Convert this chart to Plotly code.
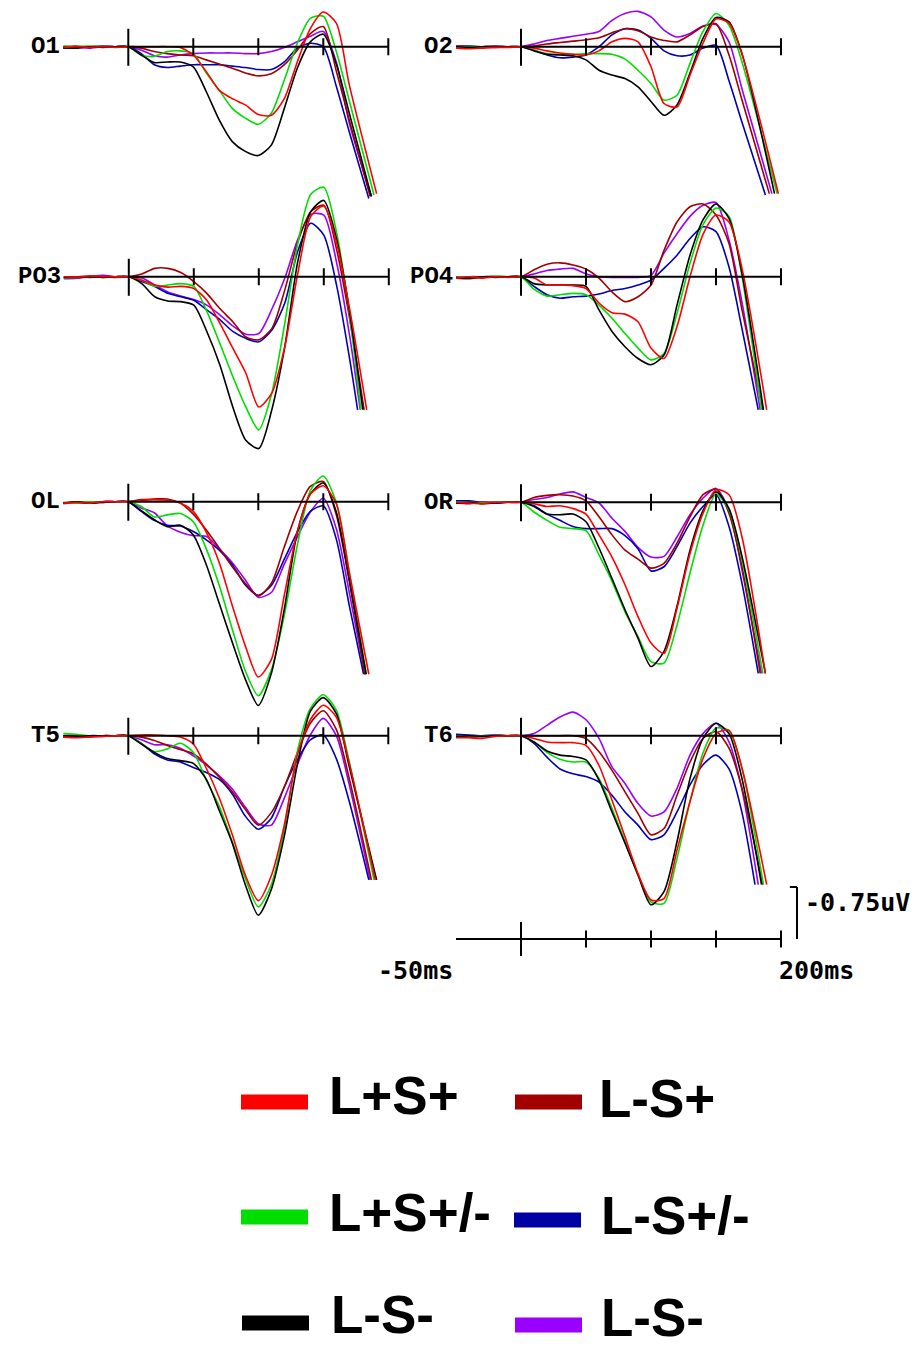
import plotly.graph_objects as go

# ---------------- data (µV, negative plotted upward) ----------------
TIME = [-50, -40, -30, -20, -10, 0, 10, 20, 30, 40, 50, 60, 70, 80, 90, 100, 110, 120, 130, 140, 150, 160, 170]
TICK_MS = [0, 50, 100, 150, 200]
CONDITIONS = ["L+S+", "L-S+", "L+S+/-", "L-S+/-", "L-S-", "L-S-"]
COLORS = ["#ff0000", "#a00000", "#00dd00", "#0000b4", "#000000", "#9900ff"]
LEGEND_COLORS = ["#ff0000", "#a30000", "#00dd00", "#0000a3", "#000000", "#9900ff"]
CHANNELS = ["O1", "O2", "PO3", "PO4", "OL", "OR", "T5", "T6"]
SCALE_UV = 0.75

O1_R = [0.01, 0.0, 0.01, 0.0, 0.01, 0, 0, 0, 0, 0.01, 0.12, 0.36, 0.63, 0.75, 0.84, 0.98, 0.99, 0.75, 0.22, -0.26, -0.50, -0.34, 0.55]
O1_DR = [0.0, -0.01, 0.01, 0.0, 0.0, 0, 0.02, 0.07, 0.10, 0.12, 0.13, 0.19, 0.25, 0.31, 0.38, 0.42, 0.39, 0.26, 0.05, -0.19, -0.29, 0.35, 1.06]
O1_G = [-0.01, 0.0, -0.01, 0.0, 0.0, 0, 0.12, 0.14, 0.07, 0.06, 0.10, 0.38, 0.63, 0.89, 1.03, 1.12, 0.96, 0.48, -0.05, -0.41, -0.44, 0.07, 0.78]
O1_B = [0.02, 0.01, 0.0, -0.01, 0.0, 0, 0.10, 0.26, 0.30, 0.28, 0.26, 0.26, 0.26, 0.28, 0.30, 0.33, 0.33, 0.22, 0.02, -0.05, 0.0, 0.57, 1.23]
O1_K = [0.01, 0.02, 0.0, 0.01, 0.0, 0, 0.12, 0.23, 0.22, 0.22, 0.29, 0.65, 1.06, 1.37, 1.51, 1.57, 1.42, 0.89, 0.31, -0.07, -0.18, 0.25, 0.96]
O1_P = [0.02, 0.01, 0.02, 0.0, 0.0, 0, 0.05, 0.13, 0.15, 0.12, 0.10, 0.09, 0.09, 0.09, 0.10, 0.10, 0.07, 0.01, -0.07, -0.15, -0.22, 0.22, 1.10]
O1_END_T = [191, 186, 189, 185, 187, 187]
O1_END_V = [2.12, 2.16, 2.14, 2.19, 2.16, 2.16]

O2_R = [0.02, 0.03, 0.02, 0.01, 0.01, 0, 0.02, 0.06, 0.09, 0.11, 0.12, 0.06, -0.07, -0.12, -0.07, 0.29, 0.82, 0.87, 0.41, -0.05, -0.40, -0.34, 0.11]
O2_DR = [0.0, 0.01, 0.0, 0.01, 0.0, 0, -0.01, -0.04, -0.06, -0.08, -0.10, -0.13, -0.20, -0.26, -0.23, -0.14, -0.09, -0.07, -0.17, -0.29, -0.33, 0.12, 0.77]
O2_G = [0.01, 0.0, 0.01, 0.0, 0.0, 0, 0.05, 0.10, 0.11, 0.11, 0.10, 0.10, 0.11, 0.18, 0.34, 0.53, 0.77, 0.70, 0.24, -0.22, -0.48, -0.31, 0.22]
O2_B = [-0.01, -0.01, 0.0, -0.01, 0.0, 0, 0.05, 0.12, 0.16, 0.15, 0.12, 0.0, -0.17, -0.26, -0.24, -0.12, 0.06, 0.13, 0.12, 0.02, -0.02, 0.49, 1.09]
O2_K = [0.0, 0.01, 0.0, 0.0, 0.0, 0, 0.06, 0.11, 0.12, 0.13, 0.19, 0.34, 0.41, 0.46, 0.58, 0.79, 0.99, 0.84, 0.38, -0.12, -0.42, -0.36, 0.10]
O2_P = [0.0, 0.0, 0.01, 0.0, 0.0, 0, -0.04, -0.09, -0.12, -0.15, -0.18, -0.22, -0.38, -0.48, -0.51, -0.43, -0.24, -0.14, -0.19, -0.30, -0.32, -0.07, 0.61]
O2_END_T = [198, 191, 197, 188, 195, 193]
O2_END_V = [2.12, 2.12, 2.12, 2.14, 2.12, 2.12]

PO3_R = [0.0, 0.01, -0.01, 0.0, 0.0, 0, 0.05, 0.12, 0.15, 0.14, 0.17, 0.34, 0.67, 1.03, 1.39, 1.88, 1.68, 1.01, -0.05, -0.87, -1.02, -0.48, 0.48]
PO3_DR = [0.01, 0.0, -0.01, 0.0, 0.01, 0, -0.04, -0.12, -0.12, -0.06, 0.07, 0.24, 0.46, 0.65, 0.87, 0.91, 0.75, 0.19, -0.50, -0.94, -1.03, -0.38, 0.62]
PO3_G = [0.02, 0.01, 0.0, 0.01, 0.0, 0, 0.05, 0.14, 0.12, 0.10, 0.14, 0.50, 0.96, 1.44, 1.88, 2.21, 1.68, 0.67, -0.48, -1.19, -1.29, -0.62, 0.58]
PO3_B = [0.01, 0.0, 0.01, 0.0, 0.0, 0, 0.07, 0.14, 0.24, 0.29, 0.34, 0.48, 0.62, 0.79, 0.89, 0.94, 0.77, 0.38, -0.37, -0.77, -0.60, 0.14, 1.20]
PO3_K = [0.01, 0.01, 0.0, 0.01, 0.0, 0, 0.10, 0.29, 0.35, 0.36, 0.41, 0.79, 1.27, 1.88, 2.36, 2.48, 1.92, 1.01, -0.22, -0.94, -1.10, -0.53, 0.53]
PO3_P = [0.03, 0.02, 0.0, -0.02, 0.0, 0, 0.02, 0.12, 0.22, 0.28, 0.33, 0.41, 0.55, 0.71, 0.83, 0.82, 0.47, 0.02, -0.54, -0.90, -0.89, -0.19, 0.87]
PO3_END_T = [183, 181, 178.5, 176, 180, 178]
PO3_END_V = [1.92, 1.92, 1.92, 1.92, 1.92, 1.92]

PO4_R = [0.02, 0.0, 0.02, 0.0, 0.01, 0, 0.02, 0.12, 0.12, 0.13, 0.17, 0.38, 0.52, 0.54, 0.65, 1.03, 1.18, 0.72, 0.0, -0.61, -0.89, -0.79, -0.12]
PO4_DR = [0.02, 0.03, 0.01, 0.0, 0.0, 0, -0.10, -0.18, -0.20, -0.17, -0.11, 0.02, 0.22, 0.36, 0.29, 0.12, -0.38, -0.79, -1.01, -1.05, -0.89, -0.48, 0.48]
PO4_G = [0.01, 0.0, 0.01, -0.01, 0.0, 0, 0.18, 0.28, 0.26, 0.24, 0.26, 0.41, 0.60, 0.82, 1.03, 1.20, 1.11, 0.53, -0.19, -0.75, -0.99, -0.87, 0.0]
PO4_B = [0.02, 0.01, 0.0, 0.01, 0.0, 0, 0.14, 0.26, 0.31, 0.29, 0.28, 0.25, 0.20, 0.17, 0.12, 0.05, -0.12, -0.31, -0.55, -0.72, -0.65, -0.14, 0.75]
PO4_K = [0.01, 0.02, 0.0, 0.0, 0.0, 0, 0.10, 0.12, 0.12, 0.12, 0.14, 0.48, 0.79, 1.01, 1.18, 1.27, 1.13, 0.41, -0.31, -0.82, -1.05, -0.84, -0.05]
PO4_P = [0.01, 0.0, 0.0, 0.0, 0.0, 0, -0.04, -0.09, -0.11, -0.12, -0.04, 0.0, 0.01, 0.01, 0.01, -0.02, -0.34, -0.62, -0.87, -1.03, -1.07, -0.53, 0.37]
PO4_END_T = [189, 186, 185, 182.5, 186.5, 184]
PO4_END_V = [1.92, 1.92, 1.92, 1.92, 1.92, 1.92]

OL_R = [0.02, 0.01, 0.02, 0.0, 0.0, 0, -0.02, -0.03, -0.02, 0.02, 0.14, 0.44, 0.88, 1.50, 2.08, 2.53, 2.28, 1.35, 0.43, -0.11, -0.23, 0.03, 1.02]
OL_DR = [0.02, 0.0, 0.01, 0.0, 0.0, 0, -0.03, -0.04, -0.04, 0.02, 0.18, 0.41, 0.67, 0.94, 1.18, 1.36, 1.18, 0.65, 0.14, -0.22, -0.29, 0.19, 1.15]
OL_G = [0.01, 0.02, 0.0, 0.01, 0.0, 0, 0.07, 0.22, 0.19, 0.17, 0.29, 0.68, 1.21, 1.84, 2.44, 2.80, 2.43, 1.64, 0.63, -0.16, -0.37, 0.01, 1.02]
OL_B = [0.02, 0.01, 0.02, 0.0, 0.0, 0, 0.14, 0.27, 0.34, 0.35, 0.43, 0.55, 0.70, 0.91, 1.20, 1.35, 1.21, 0.83, 0.44, 0.14, 0.06, 0.54, 1.50]
OL_K = [0.02, 0.0, 0.02, 0.01, 0.0, 0, 0.13, 0.26, 0.36, 0.34, 0.48, 0.91, 1.47, 2.03, 2.56, 2.94, 2.48, 1.55, 0.44, -0.11, -0.27, 0.15, 1.12]
OL_P = [0.03, 0.01, 0.02, 0.0, 0.0, 0, 0.09, 0.16, 0.35, 0.44, 0.49, 0.50, 0.68, 0.88, 1.13, 1.38, 1.31, 0.90, 0.51, 0.15, -0.05, 0.39, 1.31]
OL_END_T = [185, 182, 183, 181, 183, 182]
OL_END_V = [2.49, 2.49, 2.49, 2.49, 2.49, 2.49]

OR_R = [0.0, 0.01, 0.02, 0.0, 0.0, 0, 0.02, 0.06, 0.05, 0.09, 0.17, 0.47, 0.79, 1.19, 1.65, 2.03, 2.18, 1.53, 0.74, 0.16, -0.18, -0.11, 0.50]
OR_DR = [0.01, 0.02, 0.0, 0.0, 0.0, 0, -0.07, -0.10, -0.11, -0.09, -0.02, 0.21, 0.47, 0.69, 0.82, 0.95, 0.88, 0.59, 0.21, -0.11, -0.19, 0.16, 0.93]
OR_G = [0.0, 0.0, 0.01, 0.0, 0.0, 0, 0.14, 0.26, 0.36, 0.38, 0.41, 0.76, 1.14, 1.58, 1.94, 2.30, 2.32, 1.77, 1.02, 0.33, -0.12, 0.11, 0.83]
OR_B = [-0.02, -0.02, 0.0, 0.01, 0.0, 0, 0.05, 0.17, 0.26, 0.35, 0.38, 0.38, 0.38, 0.48, 0.67, 0.99, 0.93, 0.64, 0.30, 0.06, -0.11, 0.35, 1.17]
OR_K = [0.01, 0.0, 0.02, 0.01, 0.0, 0, 0.06, 0.17, 0.18, 0.17, 0.28, 0.66, 1.10, 1.55, 1.96, 2.37, 2.15, 1.50, 0.69, 0.12, -0.15, 0.09, 0.78]
OR_P = [0.0, 0.01, 0.0, 0.0, 0.0, 0, -0.04, -0.07, -0.12, -0.15, -0.07, 0.01, 0.23, 0.42, 0.65, 0.79, 0.78, 0.50, 0.18, -0.06, -0.20, 0.11, 0.98]
OR_END_T = [188, 184, 186, 182.5, 188, 185]
OR_END_V = [2.47, 2.47, 2.47, 2.47, 2.47, 2.47]

T5_R = [0.02, 0.03, 0.02, 0.01, 0.0, 0, -0.01, -0.01, 0.0, 0.02, 0.12, 0.47, 0.90, 1.43, 2.01, 2.38, 2.02, 1.29, 0.28, -0.23, -0.44, -0.27, 0.40]
T5_DR = [0.01, 0.0, 0.01, 0.0, 0.0, 0, 0.02, 0.07, 0.14, 0.20, 0.26, 0.41, 0.60, 0.81, 1.06, 1.29, 1.11, 0.74, 0.25, -0.18, -0.36, -0.09, 0.62]
T5_G = [-0.03, -0.02, 0.0, 0.0, 0.0, 0, 0.11, 0.23, 0.19, 0.11, 0.24, 0.64, 1.02, 1.53, 2.06, 2.47, 2.15, 1.34, 0.23, -0.39, -0.59, -0.37, 0.38]
T5_B = [0.0, 0.0, 0.01, 0.0, 0.0, 0, 0.11, 0.26, 0.35, 0.38, 0.46, 0.53, 0.63, 0.84, 1.16, 1.35, 1.19, 0.74, 0.35, 0.06, -0.01, 0.33, 0.95]
T5_K = [0.0, 0.01, 0.0, 0.0, 0.0, 0, 0.12, 0.24, 0.33, 0.36, 0.40, 0.63, 1.08, 1.55, 2.15, 2.59, 2.22, 1.45, 0.42, -0.35, -0.55, -0.32, 0.45]
T5_P = [0.02, 0.02, 0.01, 0.01, 0.0, 0, 0.06, 0.13, 0.13, 0.18, 0.29, 0.42, 0.58, 0.77, 1.03, 1.27, 1.29, 0.90, 0.42, -0.01, -0.25, 0.0, 0.71]
T5_END_T = [190, 187, 189, 185, 191, 186]
T5_END_V = [2.08, 2.08, 2.08, 2.08, 2.08, 2.08]

T6_R = [0.03, 0.03, 0.04, 0.01, 0.0, 0, 0.04, 0.09, 0.10, 0.10, 0.14, 0.43, 0.93, 1.46, 1.99, 2.37, 2.35, 1.65, 0.95, 0.33, -0.03, -0.08, 0.47]
T6_DR = [0.01, 0.02, 0.01, 0.0, 0.0, 0, 0.0, 0.0, 0.0, 0.0, 0.04, 0.23, 0.50, 0.81, 1.12, 1.43, 1.34, 0.86, 0.38, 0.04, -0.06, 0.18, 0.76]
T6_G = [0.01, 0.0, 0.01, 0.0, 0.0, 0, 0.09, 0.24, 0.34, 0.38, 0.38, 0.62, 1.05, 1.53, 2.01, 2.40, 2.42, 1.77, 0.95, 0.25, -0.11, -0.07, 0.47]
T6_B = [-0.02, -0.01, 0.0, -0.01, 0.0, 0, 0.11, 0.31, 0.48, 0.55, 0.59, 0.67, 0.86, 1.10, 1.29, 1.50, 1.43, 1.10, 0.71, 0.42, 0.28, 0.48, 1.11]
T6_K = [0.01, 0.0, 0.01, 0.0, 0.0, 0, 0.09, 0.22, 0.28, 0.30, 0.35, 0.64, 1.10, 1.55, 2.01, 2.44, 2.25, 1.53, 0.62, 0.04, -0.18, -0.03, 0.62]
T6_P = [0.01, 0.0, 0.0, 0.0, 0.0, 0, -0.03, -0.15, -0.27, -0.34, -0.23, 0.04, 0.45, 0.69, 0.98, 1.16, 1.10, 0.76, 0.28, -0.03, -0.18, 0.09, 0.78]
T6_END_T = [189, 186, 186.5, 180, 185, 182.5]
T6_END_V = [2.15, 2.15, 2.15, 2.15, 2.15, 2.15]

SERIES = {
    "O1": [O1_R, O1_DR, O1_G, O1_B, O1_K, O1_P],
    "O2": [O2_R, O2_DR, O2_G, O2_B, O2_K, O2_P],
    "PO3": [PO3_R, PO3_DR, PO3_G, PO3_B, PO3_K, PO3_P],
    "PO4": [PO4_R, PO4_DR, PO4_G, PO4_B, PO4_K, PO4_P],
    "OL": [OL_R, OL_DR, OL_G, OL_B, OL_K, OL_P],
    "OR": [OR_R, OR_DR, OR_G, OR_B, OR_K, OR_P],
    "T5": [T5_R, T5_DR, T5_G, T5_B, T5_K, T5_P],
    "T6": [T6_R, T6_DR, T6_G, T6_B, T6_K, T6_P],
}
ENDS = {
    "O1": (O1_END_T, O1_END_V), "O2": (O2_END_T, O2_END_V),
    "PO3": (PO3_END_T, PO3_END_V), "PO4": (PO4_END_T, PO4_END_V),
    "OL": (OL_END_T, OL_END_V), "OR": (OR_END_T, OR_END_V),
    "T5": (T5_END_T, T5_END_V), "T6": (T6_END_T, T6_END_V),
}

# ---------------- layout geometry (pixels) ----------------
W, H = 922, 1346
PX_MS = 1.3
PX_UV = 69.3
PANEL_POS = {  # (x of 0 ms, y of baseline)
    "O1": (128.3, 46.7), "O2": (521.0, 46.7),
    "PO3": (128.8, 276.7), "PO4": (521.0, 276.7),
    "OL": (128.3, 501.7), "OR": (521.0, 502.3),
    "T5": (128.3, 735.7), "T6": (521.0, 735.7),
}
SCALE_POS = (521.0, 939.0)
DRAW_ORDER = [5, 3, 1, 2, 4, 0]

fig = go.Figure()
layout = dict(width=W, height=H, margin=dict(l=0, r=0, t=0, b=0),
              paper_bgcolor="white", plot_bgcolor="rgba(0,0,0,0)",
              showlegend=False)
shapes, annotations = [], []


def make_axes(idx, x0, base, up=110, down=235):
    l, r = max(0, x0 - 85), min(W, x0 + 300)
    t, b = max(0, base - up), min(H, base + down)
    xa = dict(domain=[l / W, r / W], range=[(l - x0) / PX_MS, (r - x0) / PX_MS],
              visible=False, fixedrange=True, anchor=f"y{idx}")
    ya = dict(domain=[1 - b / H, 1 - t / H], range=[(b - base) / PX_UV, (t - base) / PX_UV],
              visible=False, fixedrange=True, anchor=f"x{idx}")
    sfx = "" if idx == 1 else str(idx)
    layout["xaxis" + sfx] = xa
    layout["yaxis" + sfx] = ya
    return f"x{sfx}", f"y{sfx}"


def axis_shapes(xr, yr, start, big_up, big_dn, small):
    shapes.append(dict(type="line", xref=xr, yref=yr, x0=start, x1=TICK_MS[-1], y0=0, y1=0,
                       line=dict(color="black", width=2)))
    for tm in TICK_MS:
        if tm == 0:
            y0, y1 = -big_up / PX_UV, big_dn / PX_UV
        else:
            y0, y1 = -small / PX_UV, small / PX_UV
        shapes.append(dict(type="line", xref=xr, yref=yr, x0=tm, x1=tm, y0=y0, y1=y1,
                           line=dict(color="black", width=2)))


LABEL_FONT = dict(family="Liberation Mono, Courier New, monospace", size=24, color="black")

for i, ch in enumerate(CHANNELS):
    x0, base = PANEL_POS[ch]
    xr, yr = make_axes(i + 1, x0, base)
    end_t, end_v = ENDS[ch]
    for k in DRAW_ORDER:
        vals = SERIES[ch][k]
        fig.add_trace(go.Scatter(
            x=TIME + [end_t[k]], y=vals + [end_v[k]], mode="lines",
            line=dict(color=COLORS[k], width=1.6, shape="spline", smoothing=0.7),
            xaxis=xr, yaxis=yr, hoverinfo="skip", name=CONDITIONS[k]))
    axis_shapes(xr, yr, 0, 18, 19, 8.5)
    annotations.append(dict(text=f"<b>{ch}</b>", xref="paper", yref="paper",
                            x=(x0 - 66) / W, y=1 - base / H, xanchor="right", yanchor="middle",
                            showarrow=False, font=LABEL_FONT))

# ---------------- scale bar ----------------
sx0, sbase = SCALE_POS
sxr, syr = make_axes(9, sx0, sbase, up=80, down=60)
axis_shapes(sxr, syr, -50, 17, 17, 8.5)
bracket_t = 212.3
shapes.append(dict(type="line", xref=sxr, yref=syr, x0=bracket_t, x1=bracket_t, y0=0, y1=-SCALE_UV,
                   line=dict(color="black", width=2)))
shapes.append(dict(type="line", xref=sxr, yref=syr, x0=bracket_t - 5.5, x1=bracket_t, y0=-SCALE_UV,
                   y1=-SCALE_UV, line=dict(color="black", width=2)))
SCALE_FONT = dict(family="DejaVu Sans Mono, monospace", size=25, color="black")
annotations.append(dict(text=f"<b>-{SCALE_UV}uV</b>", xref=sxr, yref=syr, x=bracket_t + 5, y=-0.53,
                        xanchor="left", yanchor="middle", showarrow=False, font=SCALE_FONT))
annotations.append(dict(text="<b>-50ms</b>", xref=sxr, yref=syr, x=-51, y=0.45,
                        xanchor="right", yanchor="middle", showarrow=False, font=SCALE_FONT))
annotations.append(dict(text="<b>200ms</b>", xref=sxr, yref=syr, x=197, y=0.45,
                        xanchor="left", yanchor="middle", showarrow=False, font=SCALE_FONT))

# ---------------- legend ----------------
LEG_SWATCH = [  # (x_left, y_center) in pixels
    (241, 1102), (515, 1102), (241, 1217), (514, 1220), (242, 1323), (515, 1325)]
LEG_TEXT = [(327, 1095), (597, 1098), (327, 1212), (599, 1215), (329, 1314), (599, 1317)]
LEG_FONT = dict(family="Liberation Sans, Arial, sans-serif", size=53, color="black")
for k in range(6):
    lx, ly = LEG_SWATCH[k]
    shapes.append(dict(type="rect", xref="paper", yref="paper",
                       x0=lx / W, x1=(lx + 67) / W, y0=1 - (ly + 7.5) / H, y1=1 - (ly - 7.5) / H,
                       fillcolor=LEGEND_COLORS[k], line=dict(width=0)))
    tx, ty = LEG_TEXT[k]
    annotations.append(dict(text=f"<b>{CONDITIONS[k]}</b>", xref="paper", yref="paper",
                            x=tx / W, y=1 - ty / H, xanchor="left", yanchor="middle",
                            showarrow=False, font=LEG_FONT))

layout["shapes"] = shapes
layout["annotations"] = annotations
fig.update_layout(**layout)
fig.write_html("out.html")
